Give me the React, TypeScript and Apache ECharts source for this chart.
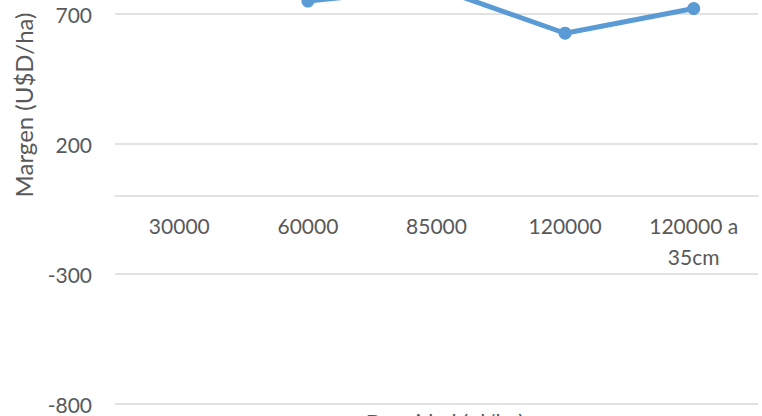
import React, { useEffect, useRef } from "react";
import * as echarts from "echarts";

const categories = ["30000", "60000", "85000", "120000", "120000 a\n35cm"];
const margenValues = [1100, 750, 800, 626, 721];
const yTicks = { min: -800, max: 1200, interval: 500 };
const yAxisTitle = "Margen (U$D/ha)";
const xAxisTitle = "Densidad (pl/ha)";

const FONT = "Lato, 'Open Sans', sans-serif";
const TEXT_COLOR = "#595959";
const GRID_COLOR = "#d9d9d9";

export default function App() {
  const ref = useRef<HTMLDivElement>(null);
  useEffect(() => {
    if (!ref.current) return;
    const chart = echarts.init(ref.current, null, { renderer: "svg" });
    chart.setOption({
      animation: false,
      backgroundColor: "#ffffff",
      grid: {
        left: 115,
        right: 4,
        top: -116,
        bottom: 12,
        containLabel: false,
        outerBoundsMode: "none",
      },
      xAxis: {
        type: "category",
        data: categories,
        boundaryGap: true,
        axisLine: { show: true, onZero: true, lineStyle: { color: GRID_COLOR, width: 1.5 } },
        axisTick: { show: false },
        axisLabel: {
          color: TEXT_COLOR,
          fontFamily: FONT,
          fontSize: 21,
          lineHeight: 31,
          margin: -194,
          interval: 0,
        },
        splitLine: { show: false },
      },
      yAxis: {
        type: "value",
        min: yTicks.min,
        max: yTicks.max,
        interval: yTicks.interval,
        axisLine: { show: false },
        axisTick: { show: false },
        axisLabel: {
          color: TEXT_COLOR,
          fontFamily: FONT,
          fontSize: 21,
          margin: 23,
          showMaxLabel: false,
        },
        splitLine: { show: true, lineStyle: { color: GRID_COLOR, width: 1.5 } },
      },
      graphic: [
        {
          type: "text",
          x: 23,
          y: 105,
          rotation: Math.PI / 2,
          style: {
            text: yAxisTitle,
            fill: TEXT_COLOR,
            font: `24px ${FONT}`,
            align: "center",
            verticalAlign: "middle",
          },
        },
        {
          type: "text",
          x: 445,
          y: 410,
          style: {
            text: xAxisTitle,
            fill: TEXT_COLOR,
            font: `22px ${FONT}`,
            align: "center",
            verticalAlign: "top",
          },
        },
      ],
      series: [
        {
          type: "line",
          data: margenValues,
          symbol: "circle",
          symbolSize: 13,
          itemStyle: { color: "#5B9BD5" },
          lineStyle: { color: "#5B9BD5", width: 5 },
          clip: false,
        },
      ],
    });
    return () => chart.dispose();
  }, []);
  return (
    <div
      ref={ref}
      style={{ position: "fixed", left: 0, top: 0, width: 762, height: 416 }}
    />
  );
}
